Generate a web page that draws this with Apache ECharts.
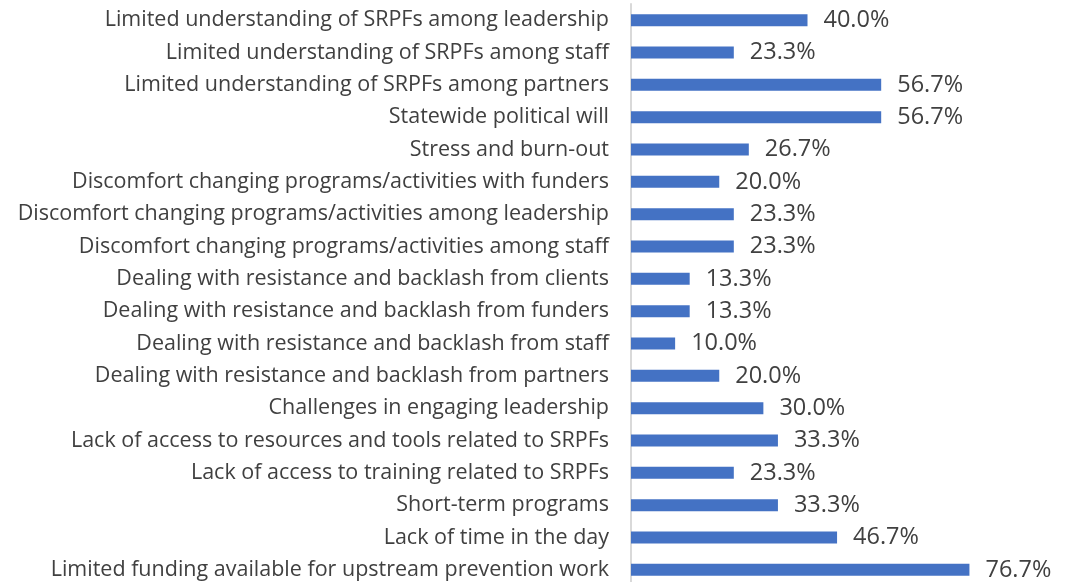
<!DOCTYPE html>
<html>
<head>
<meta charset="utf-8">
<script src="https://cdn.jsdelivr.net/npm/echarts@6/dist/echarts.min.js"></script>
<style>
  html, body { margin: 0; padding: 0; background: #fff; }
  #chart { width: 1066px; height: 582px; }
</style>
</head>
<body>
<div id="chart"></div>
<script>
// barriers, top to bottom as in the picture
const categories = [
  "Limited understanding of SRPFs among leadership",
  "Limited understanding of SRPFs among staff",
  "Limited understanding of SRPFs among partners",
  "Statewide political will",
  "Stress and burn-out",
  "Discomfort changing programs/activities with funders",
  "Discomfort changing programs/activities among leadership",
  "Discomfort changing programs/activities among staff",
  "Dealing with resistance and backlash from clients",
  "Dealing with resistance and backlash from funders",
  "Dealing with resistance and backlash from staff",
  "Dealing with resistance and backlash from partners",
  "Challenges in engaging leadership",
  "Lack of access to resources and tools related to SRPFs",
  "Lack of access to training related to SRPFs",
  "Short-term programs",
  "Lack of time in the day",
  "Limited funding available for upstream prevention work"
];
const percents = [40.0, 23.3, 56.7, 56.7, 26.7, 20.0, 23.3, 23.3, 13.3, 13.3, 10.0, 20.0, 30.0, 33.3, 23.3, 33.3, 46.7, 76.7];

const chart = echarts.init(document.getElementById("chart"));
chart.setOption({
  animation: false,
  grid: { left: 631, top: 4, width: 353, height: 582, outerBoundsMode: "none" },
  xAxis: {
    type: "value",
    min: 0,
    max: 80,
    show: false
  },
  yAxis: {
    type: "category",
    inverse: true,
    data: categories,
    axisLine: { show: true, lineStyle: { color: "#d9d9d9", width: 2 } },
    axisTick: { show: false },
    axisLabel: {
      margin: 22,
      fontFamily: "Open Sans",
      fontSize: 21.5,
      color: "#404040"
    }
  },
  series: [{
    type: "bar",
    data: percents,
    barWidth: 12,
    itemStyle: { color: "#4472C4" },
    label: {
      show: true,
      position: "right",
      distance: 16,
      fontFamily: "Open Sans",
      fontSize: 23.5,
      color: "#404040",
      formatter: p => p.value.toFixed(1) + "%"
    }
  }]
});
</script>
</body>
</html>
